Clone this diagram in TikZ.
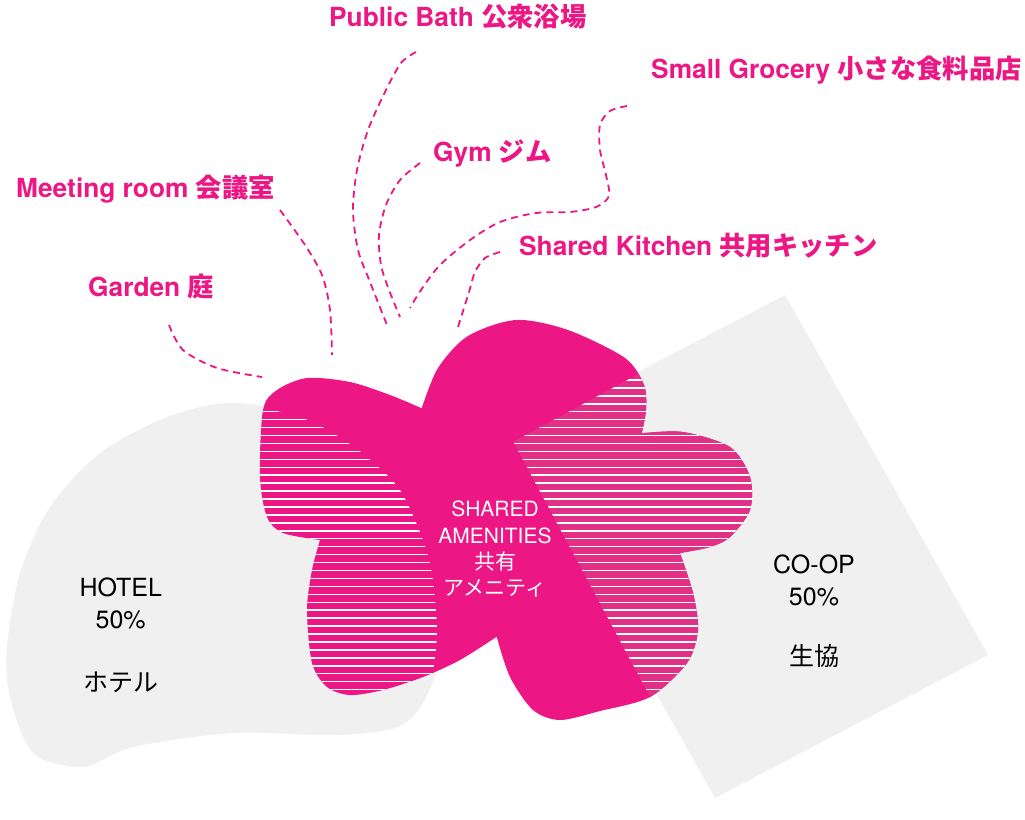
\documentclass[tikz,border=0pt]{standalone}
\usepackage{fontspec}
\setmainfont{TeX Gyre Heros}
\newfontfamily\cjk{Noto Sans CJK JP}
\definecolor{pinkc}{RGB}{236,22,132}
\definecolor{pinkb}{RGB}{226,48,134}
\definecolor{grayc}{RGB}{240,240,240}
\def\blobpath{(421.7,408.3) -- plot[smooth] coordinates {(421.7,408.3) (438,368) (468,336) (516,320) (568,330) (625,358) (644,385) (646,410) (641.7,433.3)} -- plot[smooth] coordinates {(641.7,433.3) (683,432) (730,447) (750,477) (750,510) (730,537) (710,547) (680,553)} -- plot[smooth] coordinates {(680,553) (693,593) (698,630) (687,663) (650,697) (600,711) (560,720) (533,710) (510,677) (496.7,636.7)} -- plot[smooth] coordinates {(496.7,636.7) (460,660) (423,677) (383,690) (350,695) (327,687) (312,663) (307,610) (312,570) (320,540)} -- plot[smooth] coordinates {(320,540) (283,533) (267,517) (260,477) (263,410) (277,390) (307,378) (350,382) (390,395) (421.7,408.3)} -- cycle}
\begin{document}
\begin{tikzpicture}[x=1pt,y=-1pt,
  leader/.style={draw=pinkc, line width=1.8pt, dash pattern=on 7pt off 5pt},
  lbl/.style={text=pinkc, font=\fontsize{26.3}{30}\selectfont\bfseries, anchor=base west, inner sep=0pt},
  ctr/.style={text=black, font=\fontsize{25}{30}\selectfont, anchor=base, inner sep=0pt},
  amen/.style={text=white, font=\fontsize{21}{26}\selectfont, anchor=base, inner sep=0pt},
  stripe/.style={white, line width=1.5pt}]
\useasboundingbox (0,0) rectangle (1025,819);
% hotel area
\fill[grayc] plot[smooth cycle] coordinates {(230,403) (300,415) (380,460) (430,560) (440,650) (423,703) (395,728) (333,735) (233,733) (133,747) (83,767) (33,753) (10,697) (7,647) (20,573) (50,507) (100,453) (167,417)};
% co-op area
\fill[grayc] (785,295) -- (988,655) -- (715,798) -- (512,438) -- cycle;
% shared amenities blob
\fill[pinkc] \blobpath;
\begin{scope}
  \clip \blobpath;
  \clip (250,400) -- plot[smooth] coordinates {(262,408) (300,417) (333,433) (367,457) (400,490) (423,540) (433,580) (437,633) (433,673) (430,705)} -- (250,705) -- cycle;
  \foreach \k in {0,...,45} {\draw[stripe] (240,{372+\k*7.94}) -- (470,{372+\k*7.94});}
\end{scope}
\begin{scope}
  \clip \blobpath;
  \clip (668,740) -- (650,696.7) -- (513.3,441.7) -- (633,377) -- (700,341) -- (780,341) -- (780,740) -- cycle;
  \fill[pinkb] (500,330) rectangle (780,740);
  \foreach \k in {0,...,45} {\draw[stripe] (500,{372+\k*7.94}) -- (780,{372+\k*7.94});}
\end{scope}
% area texts
\node[ctr] (h1) at (120.7,596) {HOTEL};
\node[ctr] (h2) at (120.7,628) {50\%};
\node[ctr] (h3) at (120.7,691) {\cjk ホテル};
\node[ctr] (c1) at (814,573) {CO-OP};
\node[ctr] (c2) at (814,605) {50\%};
\node[ctr] (c3) at (814,665) {\cjk 生協};
\node[amen] (s1) at (495,516.7) {SHARED};
\node[amen] (s2) at (495,543) {AMENITIES};
\node[amen] (s3) at (495,569.5) {\cjk 共有};
\node[amen] (s4) at (495,595) {\cjk アメニティ};
% labels
\node[lbl] (pb) at (329,26) {Public Bath {\cjk 公衆浴場}};
\node[lbl] (sg) at (651,78) {Small Grocery {\cjk 小さな食料品店}};
\node[lbl] (gy) at (433,161) {Gym {\cjk ジム}};
\node[lbl] (mr) at (16,197) {Meeting room {\cjk 会議室}};
\node[lbl] (sk) at (519,255) {Shared Kitchen {\cjk 共用キッチン}};
\node[lbl] (gd) at (88,296) {Garden {\cjk 庭}};
% leader ends
\coordinate (pbS) at (416,52);   \coordinate (pbE) at (387,325);
\coordinate (sgS) at (627,106);  \coordinate (sgE) at (410,308);
\coordinate (gyS) at (420,163);  \coordinate (gyE) at (400,317);
\coordinate (mrS) at (280,210);  \coordinate (mrE) at (332,355);
\coordinate (skS) at (500,252);  \coordinate (skE) at (458,327);
\coordinate (gdS) at (169,325);  \coordinate (gdE) at (262,377);
\draw[leader] plot[smooth] coordinates {(pbS) (401,63) (385,92) (368,130) (357,170) (353,210) (358,250) (370,282) (pbE)};
\draw[leader] plot[smooth] coordinates {(sgS) (610,111) (600,125) (600,150) (606,175) (609,196) (596,207) (570,212) (536,213) (500,222) (470,240) (440,265) (421,290) (sgE)};
\draw[leader] plot[smooth] coordinates {(gyS) (400,180) (386,205) (379,235) (381,265) (389,290) (gyE)};
\draw[leader] plot[smooth] coordinates {(mrS) (305,245) (322,275) (330,310) (mrE)};
\draw[leader] plot[smooth] coordinates {(skS) (485,258) (475,272) (469,292) (skE)};
\draw[leader] plot[smooth] coordinates {(gdS) (183,350) (217,368) (gdE)};
\end{tikzpicture}
\end{document}
